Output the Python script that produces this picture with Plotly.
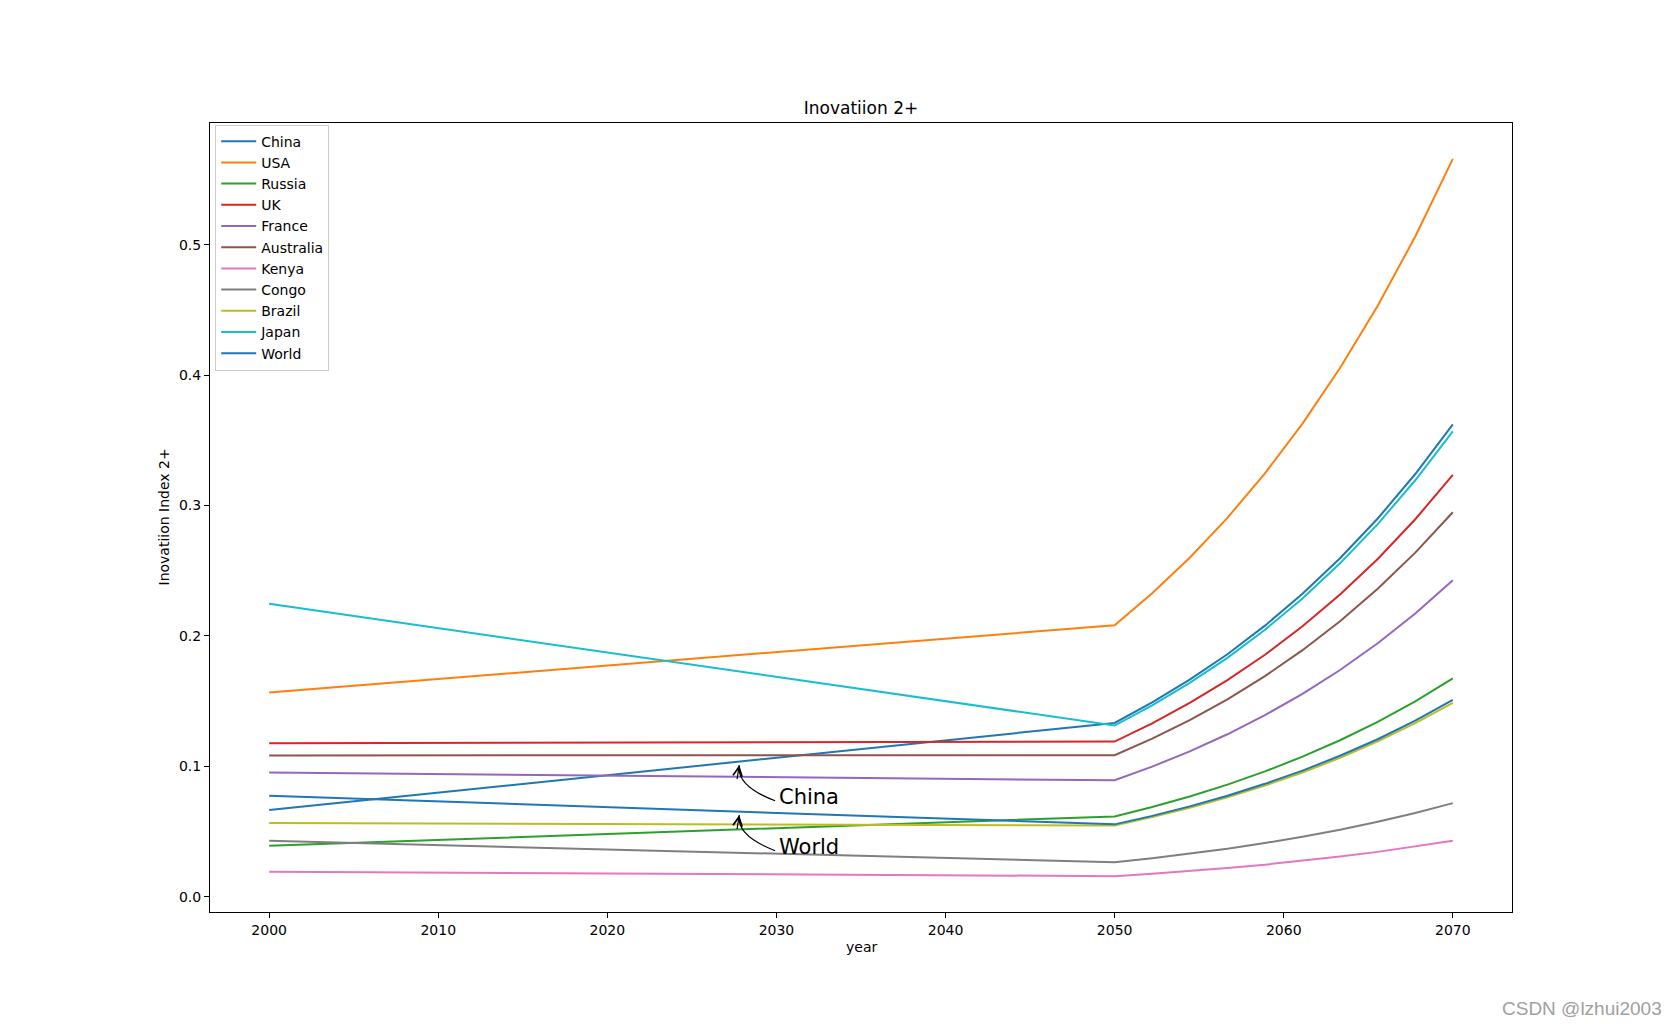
import plotly.graph_objects as go

# ---- data ----
years = [2000, 2050, 2052.22, 2054.44, 2056.67, 2058.89, 2061.11, 2063.33, 2065.56, 2067.78, 2070]

china = [0.0665, 0.1333, 0.1490, 0.1665, 0.1860, 0.2079, 0.2323, 0.2596, 0.2901, 0.3242, 0.3623]
usa = [0.1567, 0.2082, 0.2327, 0.2600, 0.2906, 0.3247, 0.3629, 0.4055, 0.4532, 0.5064, 0.5659]
russia = [0.0391, 0.0616, 0.0688, 0.0769, 0.0860, 0.0961, 0.1074, 0.1200, 0.1341, 0.1498, 0.1674]
uk = [0.1178, 0.1190, 0.1330, 0.1486, 0.1661, 0.1856, 0.2074, 0.2318, 0.2590, 0.2895, 0.3235]
france = [0.0953, 0.0893, 0.0998, 0.1115, 0.1246, 0.1393, 0.1556, 0.1739, 0.1944, 0.2172, 0.2427]
australia = [0.1084, 0.1085, 0.1212, 0.1355, 0.1514, 0.1692, 0.1891, 0.2113, 0.2362, 0.2639, 0.2949]
kenya = [0.0192, 0.0158, 0.0177, 0.0197, 0.0221, 0.0246, 0.0275, 0.0308, 0.0344, 0.0384, 0.0429]
congo = [0.0429, 0.0264, 0.0295, 0.0330, 0.0368, 0.0412, 0.0460, 0.0514, 0.0575, 0.0642, 0.0718]
brazil = [0.0565, 0.0547, 0.0611, 0.0683, 0.0763, 0.0853, 0.0953, 0.1065, 0.1191, 0.1331, 0.1487]
japan = [0.2247, 0.1313, 0.1467, 0.1640, 0.1832, 0.2048, 0.2288, 0.2557, 0.2858, 0.3194, 0.3569]
world = [0.0775, 0.0555, 0.0620, 0.0693, 0.0775, 0.0866, 0.0967, 0.1081, 0.1208, 0.1350, 0.1509]

series_names = ["China", "USA", "Russia", "UK", "France", "Australia", "Kenya", "Congo", "Brazil", "Japan", "World"]
series_values = [china, usa, russia, uk, france, australia, kenya, congo, brazil, japan, world]
colors = ["#1f77b4", "#ff7f0e", "#2ca02c", "#d62728", "#9467bd", "#8c564b",
          "#e377c2", "#7f7f7f", "#bcbd22", "#17becf", "#1f77b4"]

x_ticks = [2000, 2010, 2020, 2030, 2040, 2050, 2060, 2070]
y_ticks = [0.0, 0.1, 0.2, 0.3, 0.4, 0.5]

# annotation labels: text, text pos, arrow start, control, tip
ann_labels = ["China", "World"]
ann_text_x = [2030.05, 2030.05]
ann_text_y = [0.0767, 0.0383]
ann_start = [(2029.92, 0.0736), (2029.92, 0.0353)]
ann_ctrl = [(2027.61, 0.0851), (2027.61, 0.0468)]
ann_tip = [(2027.80, 0.1010), (2027.80, 0.0627)]

FONT = "DejaVu Sans"
OFF = 8  # page body margin compensation

fig = go.Figure()
for name, vals, c in zip(series_names, series_values, colors):
    fig.add_trace(go.Scatter(x=years, y=vals, mode="lines", name=name,
                             line=dict(color=c, width=2)))

# axis ranges with 5% margins like matplotlib
xmin, xmax = min(years), max(years)
allv = [v for s in series_values for v in s]
ymin, ymax = min(allv), max(allv)
xr = [xmin - 0.05 * (xmax - xmin), xmax + 0.05 * (xmax - xmin)]
yr = [ymin - 0.05 * (ymax - ymin), ymax + 0.05 * (ymax - ymin)]

annotations = []
shapes = []
for lab, tx, ty, s, c, t in zip(ann_labels, ann_text_x, ann_text_y, ann_start, ann_ctrl, ann_tip):
    annotations.append(dict(x=tx, y=ty, xref="x", yref="y", text=lab, showarrow=False,
                            xanchor="left", yanchor="middle",
                            font=dict(family=FONT, size=21, color="black")))
    shapes.append(dict(type="path", xref="x", yref="y",
                       path=f"M {s[0]},{s[1]} Q {c[0]},{c[1]} {t[0]},{t[1]}",
                       line=dict(color="black", width=1.2)))
    tail = (t[0] + 0.75 * (c[0] - t[0]), t[1] + 0.75 * (c[1] - t[1]))
    annotations.append(dict(x=t[0], y=t[1], ax=tail[0], ay=tail[1], xref="x", yref="y",
                            axref="x", ayref="y", text="", showarrow=True,
                            arrowhead=5, arrowsize=1.5, arrowwidth=1.2, arrowcolor="black"))

# axis labels
annotations.append(dict(x=0.5, y=0, xref="paper", yref="paper", text="year", showarrow=False,
                        xanchor="center", yanchor="middle", yshift=-35,
                        font=dict(family=FONT, size=14, color="black")))
annotations.append(dict(x=0, y=0.5, xref="paper", yref="paper", text="Inovatiion Index 2+",
                        showarrow=False, textangle=-90, xanchor="center", yanchor="middle",
                        xshift=-47, font=dict(family=FONT, size=14, color="black")))
# watermark
annotations.append(dict(x=1.1167, y=-0.1217, xref="paper", yref="paper", text="CSDN @lzhui2003",
                        showarrow=False, xanchor="right", yanchor="middle",
                        font=dict(family="Liberation Sans", size=19, color="#a0a0a0")))

fig.update_layout(
    width=1680, height=1024,
    margin=dict(l=210 - OFF, r=168 + OFF, t=123 - OFF, b=112 + OFF, autoexpand=False),
    paper_bgcolor="white", plot_bgcolor="white",
    font=dict(family=FONT, size=14, color="black"),
    title=dict(text="Inovatiion 2+", x=(210 + 1512 - 2 * OFF) / 2 / 1680, xanchor="center",
               y=1 - (108 - OFF) / 1024, yanchor="middle", yref="container",
               font=dict(family=FONT, size=17, color="black")),
    showlegend=True,
    legend=dict(x=0.004, y=0.998, xanchor="left", yanchor="top", itemwidth=35,
                bgcolor="rgba(255,255,255,0.8)", bordercolor="#cccccc", borderwidth=1,
                font=dict(family=FONT, size=14, color="black"), tracegroupgap=0),
    xaxis=dict(range=xr, tickmode="array", tickvals=x_ticks, ticktext=[str(v) for v in x_ticks],
               showgrid=False, zeroline=False, showline=True, mirror=True, linecolor="black",
               linewidth=1.1, ticks="outside", ticklen=5, tickwidth=1.1, tickcolor="black",
               tickfont=dict(family=FONT, size=14, color="black")),
    yaxis=dict(range=yr, tickmode="array", tickvals=y_ticks, ticktext=[f"{v:.1f}" for v in y_ticks],
               showgrid=False, zeroline=False, showline=True, mirror=True, linecolor="black",
               linewidth=1.1, ticks="outside", ticklen=5, tickwidth=1.1, tickcolor="black",
               tickfont=dict(family=FONT, size=14, color="black")),
    annotations=annotations,
    shapes=shapes,
)

fig.write_html("out.html")
